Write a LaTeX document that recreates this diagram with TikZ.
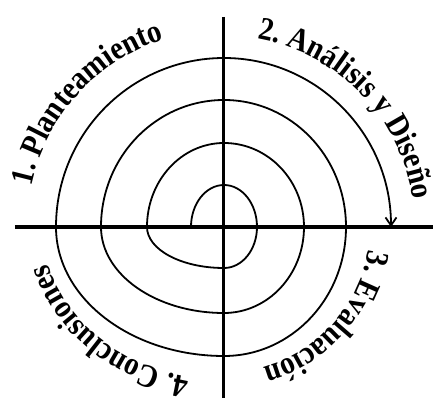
\documentclass[tikz,border=0pt]{standalone}
\usepackage{fontspec}
\setmainfont{Liberation Serif}
\newfontfamily\spfam{Liberation Serif}[FakeStretch=0.89]
\usetikzlibrary{arrows.meta,decorations.text}
\newcommand{\spfmt}{\spfam\bfseries\fontsize{32.5}{33}\selectfont}
\begin{document}
\begin{tikzpicture}[x=1pt,y=1pt,
  axisline/.style={line width=3.6pt},
  vaxisline/.style={line width=3pt},
  spiralline/.style={line width=1.8pt},
  curvedlabel/.style={decorate,decoration={text along path,text align=left}}]
\useasboundingbox (-224,-182) rectangle (210,227);
\coordinate (c) at (0,0);
\coordinate (hl) at (-209,0);
\coordinate (hr) at (209,0);
\coordinate (vt) at (0,210);
\coordinate (vb) at (0,-171);
\draw[axisline] (hl) -- (hr);
\draw[vaxisline] (vt) -- (vb);
\coordinate (s0) at (-33,0);
\draw[spiralline,-{Straight Barb[length=8pt,width=11pt]}] (s0)
  arc[start angle=180,end angle=90,x radius=33pt,y radius=42pt]
  arc[start angle=90,end angle=0,x radius=33pt,y radius=42pt]
  arc[start angle=0,end angle=-90,x radius=33pt,y radius=41pt]
  arc[start angle=-90,end angle=-180,x radius=77pt,y radius=41pt]
  arc[start angle=180,end angle=90,x radius=77pt,y radius=84pt]
  arc[start angle=90,end angle=0,x radius=80pt,y radius=84pt]
  arc[start angle=0,end angle=-90,x radius=80pt,y radius=86pt]
  arc[start angle=-90,end angle=-180,x radius=123pt,y radius=86pt]
  arc[start angle=180,end angle=90,x radius=123pt,y radius=127pt]
  arc[start angle=90,end angle=0,x radius=122pt,y radius=127pt]
  arc[start angle=0,end angle=-90,x radius=122pt,y radius=129pt]
  arc[start angle=-90,end angle=-180,x radius=168pt,y radius=129pt]
  arc[start angle=180,end angle=90,x radius=168pt,y radius=169pt]
  arc[start angle=90,end angle=0,x radius=167pt,y radius=169pt];
\path[curvedlabel,decoration={text={|\spfmt|1. Planteamiento}}]
  (168:197pt) arc[start angle=168,end angle=90,radius=197pt];
\path[curvedlabel,decoration={text={|\spfmt|2. Análisis y Diseño}}]
  (80:191pt) arc[start angle=80,end angle=-15,radius=191pt];
\path[curvedlabel,decoration={text={|\spfmt|3. Evaluación}}]
  (-9:146pt) arc[start angle=-9,end angle=-110,radius=146pt];
\path[curvedlabel,decoration={text={|\spfmt|4. Conclusiones}}]
  (259:181pt and 153pt) arc[start angle=259,end angle=165,x radius=181pt,y radius=153pt];
\end{tikzpicture}
\end{document}
